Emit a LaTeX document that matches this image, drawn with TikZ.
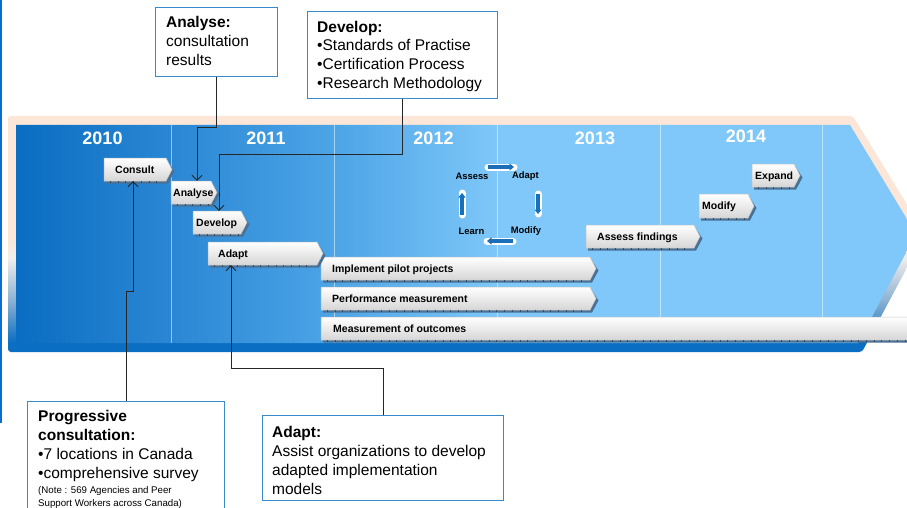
\documentclass[tikz,border=0pt]{standalone}
\usepackage{fontspec}
\setmainfont{Liberation Sans}
\usetikzlibrary{arrows.meta,calc}
\definecolor{peach}{HTML}{FCE6D8}
\definecolor{peachw}{HTML}{F2EEEC}
\definecolor{bandblue}{HTML}{0A6EC2}
\definecolor{bandmid}{HTML}{8DB2D2}
\definecolor{inA}{HTML}{0A6DC1}
\definecolor{inB}{HTML}{2C88D5}
\definecolor{inC}{HTML}{4EA6E7}
\definecolor{lightB}{HTML}{80C8F9}
\definecolor{calloutB}{HTML}{3A8ACB}
\definecolor{shadowc}{HTML}{4A7195}
\definecolor{tagbot}{HTML}{D6D6D6}
\definecolor{tagedge}{HTML}{C4C4C4}
\definecolor{tickc}{HTML}{3C4C5C}
\definecolor{cyc}{HTML}{1B6FB8}
\definecolor{edgeB}{HTML}{0A6ED1}
\pgfdeclareverticalshading{outersh}{100bp}{color(0bp)=(bandblue); color(27bp)=(bandblue); color(36bp)=(bandmid); color(45bp)=(peachw); color(49bp)=(peach); color(100bp)=(peach)}
\pgfdeclarehorizontalshading{innersh}{100bp}{color(0bp)=(inA); color(25bp)=(inA); color(34bp)=(inB); color(43bp)=(inC); color(52bp)=(lightB); color(100bp)=(lightB)}
\newcommand\chev[7]{%
  \fill[shadowc] (#2+2,#4+2) -- (#3-5,#4+2) -- (#3+2.5,{(#4+#5)/2+2}) -- (#3-4,#5+2.5) -- (#2+2,#5+2.5) -- cycle;
  \shade[top color=white, bottom color=tagbot, draw=tagedge, line width=0.5pt] (#2,#4) -- (#3-6,#4) -- (#3,{(#4+#5)/2}) -- (#3-6,#5) -- (#2,#5) -- cycle;
  \draw[tickc, line width=2.5pt, dash pattern=on 0.7pt off 7pt] (#2+6,#5+1.2) -- (#3-9,#5+1.2);
  \node[inner sep=0pt, minimum width={(#3-(#2))*1pt}, minimum height={(#5-(#4))*1pt}] (#1) at ({(#2+#3)/2},{(#4+#5)/2}) {};
  \node[tagtext, anchor=base west] (#1-t) at (#6,{(#4+#5)/2+3.8}) {#7};
}
\begin{document}
\begin{tikzpicture}[x=1pt,y=-1pt,
  tagtext/.style={inner sep=0pt, font=\bfseries\fontsize{10.5}{12}\selectfont, text=black},
  year/.style={text=white, inner sep=0pt, font=\bfseries\fontsize{18}{20}\selectfont},
  vline/.style={draw=white, draw opacity=0.5, line width=0.8pt},
  callout/.style={draw=calloutB, line width=1.1pt, fill=white, inner sep=0pt},
  ctext/.style={inner sep=0pt, font=\fontsize{15.5}{19}\selectfont},
  ctextb/.style={inner sep=0pt, font=\bfseries\fontsize{15.5}{19}\selectfont},
  csmall/.style={inner sep=0pt, font=\fontsize{9.7}{12}\selectfont},
  cyctext/.style={inner sep=0pt, font=\bfseries\fontsize{9.4}{10}\selectfont},
  conn/.style={draw=black!85, line width=0.9pt, -{Straight Barb[length=5pt,width=10pt]}},
  cycwhite/.style={draw=white, line width=7pt, line cap=round},
  cycarrow/.style={draw=cyc, line width=3.2pt, -{Triangle[length=4.5pt,width=7pt]}}
]
\useasboundingbox (0,0) rectangle (907,508);
\clip (0,0) rectangle (907,508);
\fill[white] (0,0) rectangle (907,508);
\fill[edgeB] (0,0) rectangle (2,423);
% banner
\shade[shading=outersh, rounded corners=3pt] (8,116) -- (853,116) -- (925,234) -- (862,352) -- (8,352) -- cycle;
\shade[shading=innersh] (16,125) -- (850,125) -- (916,234) -- (858,343) -- (16,343) -- cycle;
\foreach \gx in {171,334,497,660,822} \draw[vline] (\gx,125) -- (\gx,343);
% years
\node[year] (y2010) at (102.5,138) {2010};
\node[year] (y2011) at (266,138) {2011};
\node[year] (y2012) at (433.5,138) {2012};
\node[year] (y2013) at (595,138) {2013};
\node[year] (y2014) at (746,136) {2014};
% tags
\chev{meas}{321}{930}{317}{340}{333}{Measurement of outcomes}
\chev{perf}{321}{596}{287}{310}{332}{Performance measurement}
\chev{impl}{321}{596}{257}{280}{332}{Implement pilot projects}
\chev{adapttag}{208}{323}{242}{265}{218}{Adapt}
\chev{devtag}{193}{247}{211}{234}{196}{Develop}
\chev{anatag}{171}{217}{181}{204}{173}{Analyse}
\chev{consult}{104}{172}{158}{181}{115}{Consult}
\chev{assessf}{586}{700}{225}{248}{597}{Assess findings}
\chev{modify}{699}{754}{194}{218}{702}{Modify}
\chev{expand}{752}{800}{164}{187}{755}{Expand}
% cycle
\node[cyctext] (cAssess) at (472,176) {Assess};
\node[cyctext] (cAdapt) at (525.5,176) {Adapt};
\node[cyctext] (cModify) at (526,231) {Modify};
\node[cyctext] (cLearn) at (471.5,231) {Learn};
\coordinate (a1) at (488,167); \coordinate (a2) at (514,167);
\coordinate (b1) at (538,194); \coordinate (b2) at (538,214);
\coordinate (c1) at (513,241); \coordinate (c2) at (487,241);
\coordinate (d1) at (462,215); \coordinate (d2) at (462,193);
\foreach \p/\q in {a1/a2,b1/b2,c1/c2,d1/d2} {
  \draw[cycwhite] (\p) -- (\q);
  \draw[cycarrow] (\p) -- (\q);
}
% callouts
\node[callout, minimum width=122pt, minimum height=69pt, anchor=north west] (anabox) at (155,7) {};
\node[ctextb, anchor=base west] (ana1) at (166,28) {Analyse:};
\node[ctext, anchor=base west] (ana2) at (166,47) {consultation};
\node[ctext, anchor=base west] (ana3) at (166,66) {results};

\node[callout, minimum width=190pt, minimum height=87pt, anchor=north west] (devbox) at (307,11) {};
\node[ctextb, anchor=base west] (dev1) at (317,33) {Develop:};
\node[ctext, anchor=base west] (dev2) at (317,51) {•Standards of Practise};
\node[ctext, anchor=base west] (dev3) at (317,70) {•Certification Process};
\node[ctext, anchor=base west] (dev4) at (317,89) {•Research Methodology};

\node[callout, minimum width=197pt, minimum height=115pt, anchor=north west] (progbox) at (27,401) {};
\node[ctextb, anchor=base west] (pr1) at (38,421) {Progressive};
\node[ctextb, anchor=base west] (pr2) at (38,440) {consultation:};
\node[ctext, anchor=base west] (pr3) at (38,459) {•7 locations in Canada};
\node[ctext, anchor=base west] (pr4) at (38,478) {•comprehensive survey};
\node[csmall, anchor=base west] (pr5) at (38,493) {(Note : 569 Agencies and Peer};
\node[csmall, anchor=base west] (pr6) at (38,506) {Support Workers across Canada)};

\node[callout, minimum width=241pt, minimum height=85pt, anchor=north west] (adbox) at (262,415) {};
\node[ctextb, anchor=base west] (ad1) at (272,437) {Adapt:};
\node[ctext, anchor=base west] (ad2) at (272,456) {Assist organizations to develop};
\node[ctext, anchor=base west] (ad3) at (272,475) {adapted implementation};
\node[ctext, anchor=base west] (ad4) at (272,494) {models};
% connectors
\coordinate (k1) at (197,127);
\coordinate (k2) at (219,154);
\coordinate (k3) at (133,291);
\coordinate (k4) at (231,368);
\draw[conn] (anabox.south) |- (k1) -- (k1 |- anatag.north);
\draw[conn] (devbox.south) |- (k2) -- (k2 |- devtag.north);
\draw[conn] (progbox.north) |- (k3) -- (k3 |- consult.south);
\draw[conn] (adbox.north) |- (k4) -- (k4 |- adapttag.south);
\end{tikzpicture}
\end{document}
